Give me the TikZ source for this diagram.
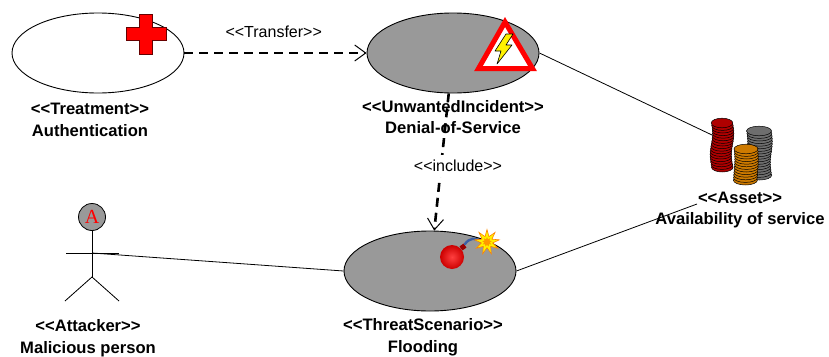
\documentclass[tikz,border=0pt]{standalone}
\usepackage{fontspec}
\setmainfont{Liberation Sans}[Ligatures=TeXOff]
\newfontfamily\serifA{Liberation Serif}
\usetikzlibrary{shapes.geometric,arrows.meta}

% stereotype brackets, kept as two separate characters
\newcommand{\sopen}{<\kern0pt<}
\newcommand{\sclose}{>\kern0pt>}

\definecolor{ucgray}{RGB}{153,153,153}
\definecolor{coinred}{RGB}{175,0,0}
\definecolor{coingray}{RGB}{110,110,110}
\definecolor{coinorange}{RGB}{205,122,0}
\definecolor{fuseblue}{RGB}{60,95,165}

\tikzset{
  usecase/.style={ellipse, draw=black, line width=0.9pt, minimum width=172pt,
                  minimum height=80pt, inner sep=0pt},
  riskcase/.style={usecase, fill=ucgray},
  stereo/.style={font=\fontsize{16.6}{21.5}\selectfont\bfseries, align=center, inner sep=0pt},
  rellabel/.style={font=\fontsize{16}{19}\selectfont, inner sep=0pt},
  depend/.style={line width=2.6pt, dash pattern=on 9pt off 6pt,
                 -{Straight Barb[length=11pt,width=16pt,line width=1pt]}},
  assoc/.style={line width=0.8pt},
  coin/.style={draw=black, line width=0.5pt},
  stick/.style={line width=0.8pt},
}

% one stack of coins: x, y of top coin, number of coins, colour, lean, x radius
\newcommand{\coinstack}[6]{%
  \foreach \i in {#3,...,0}{%
    \path[coin, fill=#4] ({#1+#5*sin(\i*22)}, {#2+\i*2.6})
      ellipse [x radius=#6, y radius=4.8];
  }%
}

\begin{document}
\begin{tikzpicture}[x=1pt, y=-1pt]
  \useasboundingbox (0,0) rectangle (829,356);

  % use cases
  \node[usecase]  (treat)  at (98,53)   {};
  \node[riskcase] (unw)    at (453,53)  {};
  \node[riskcase] (threat) at (430,271) {};

  % red cross on the treatment
  \draw[fill=red, draw=black!60!red, line width=0.8pt]
    (139.5,14) -- (152.5,14) -- (152.5,27.5) -- (166,27.5) -- (166,40.5)
    -- (152.5,40.5) -- (152.5,54) -- (139.5,54) -- (139.5,40.5) -- (126,40.5)
    -- (126,27.5) -- (139.5,27.5) -- cycle;

  % warning sign on the unwanted incident
  \draw[line width=5pt, draw=red, fill=white, line join=miter]
    (505,22) -- (478.5,68.5) -- (532.5,68.5) -- cycle;
  \draw[fill=yellow, draw=black, line width=0.6pt, line join=round]
    (506,34) -- (513,34) -- (506,45) -- (512,45) -- (497,64) -- (501,51)
    -- (495,51) -- cycle;

  % bomb on the threat scenario
  \shade[inner color=red!75!white, outer color=red!80!black] (452,257) circle (12);
  \fill[black!40!red, rotate around={35:(463,247)}] (460.5,244.5) rectangle (465.5,249.5);
  \draw[fuseblue, line width=2.4pt, line cap=round]
    (465,244) .. controls (469,238) and (476,237) .. (481,242);
  \node[star, star points=9, star point ratio=2.2, minimum size=25pt, inner sep=0pt,
        fill=yellow, draw=orange, line width=0.6pt] (spark) at (487,242) {};
  \node[star, star points=9, star point ratio=1.8, minimum size=10pt, inner sep=0pt,
        fill=orange!80!yellow] (sparkcore) at (487,242) {};

  % coins for the asset
  \coinstack{722}{123}{17}{coinred}{1.2}{10.8}
  \coinstack{759}{131}{17}{coingray}{1.0}{12.5}
  \coinstack{746}{149}{12}{coinorange}{0.6}{12}
  \coordinate (coins) at (712,135);
  \coordinate (assetend) at (697,204);

  % attacker figure
  \node[circle, draw=black, fill=ucgray, line width=0.8pt, minimum size=27pt,
        inner sep=0pt, text=red, font=\serifA\fontsize{20}{20}\selectfont]
        (head) at (92,217) {A};
  \coordinate (hip) at (92,277);
  \coordinate (atk) at (92,253);
  \coordinate (handL) at (66,253);
  \coordinate (handR) at (119,253);
  \coordinate (footL) at (65,301);
  \coordinate (footR) at (119,301);
  \draw[stick] (head.south) -- (hip);
  \draw[stick] (handL) -- (handR);
  \draw[stick] (footL) -- (hip) -- (footR);

  % labels
  \node[stereo] (treatlbl)  at (90,120)  {\sopen Treatment\sclose\\Authentication};
  \node[stereo] (unwlbl)    at (453,117) {\sopen UnwantedIncident\sclose\\Denial-of-Service};
  \node[stereo] (assetlbl)  at (740,210) {\sopen Asset\sclose\\Availability of service};
  \node[stereo] (threatlbl) at (423,337) {\sopen ThreatScenario\sclose\\Flooding};
  \node[stereo] (atklbl)    at (88,338)  {\sopen Attacker\sclose\\Malicious person};

  % relations
  \draw[depend] (treat.east) -- (unw.west)
    node[rellabel, pos=0.49, above=14pt] (transferlbl) {\sopen Transfer\sclose};
  \draw[depend] (unw) -- (threat);
  \node[rellabel, fill=white, inner sep=5pt] (inclbl) at (458,166) {\sopen include\sclose};

  \draw[assoc] (atk) -- (threat.west);
  \draw[assoc] (unw.east) -- (coins);
  \draw[assoc] (threat.east) -- (assetend);
\end{tikzpicture}
\end{document}
